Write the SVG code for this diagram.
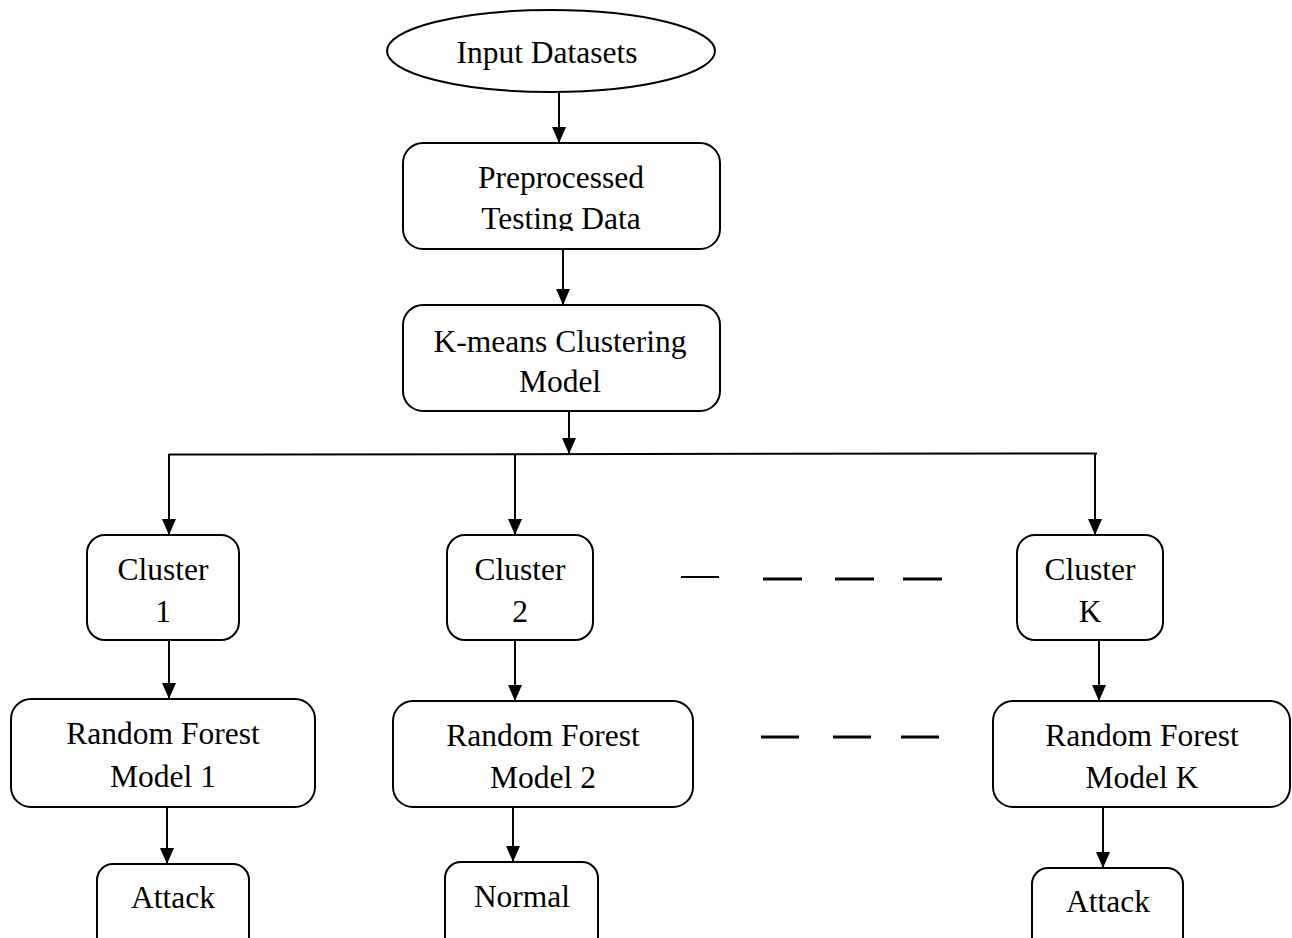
<svg xmlns="http://www.w3.org/2000/svg" width="1292" height="938" viewBox="0 0 1292 938">
<style>
.box{fill:#fff;stroke:#000;stroke-width:2}
.t{font-family:"Liberation Serif","Times New Roman",serif;font-size:31.5px;fill:#000;text-anchor:middle}
.c{stroke:#000;stroke-width:2;fill:none}
.d{stroke:#000;stroke-width:3}
.d1{stroke:#000;stroke-width:2}
</style>
<defs>
<marker id="ah" markerUnits="userSpaceOnUse" markerWidth="16" markerHeight="14" refX="16" refY="7" orient="auto">
<path d="M0,0 L16,7 L0,14 z" fill="#000"/>
</marker>
<clipPath id="clipPre"><rect x="403" y="143" width="317" height="88"/></clipPath>
</defs>
<rect width="1292" height="938" fill="#fff"/>
<g id="connectors">
<line class="c" x1="559" y1="93" x2="559" y2="143" marker-end="url(#ah)"/>
<line class="c" x1="563" y1="249" x2="563" y2="305" marker-end="url(#ah)"/>
<line class="c" x1="569" y1="411" x2="569" y2="454" marker-end="url(#ah)"/>
<line class="c" x1="169" y1="454.5" x2="1097" y2="453.5"/>
<line class="c" x1="169" y1="454" x2="169" y2="535" marker-end="url(#ah)"/>
<line class="c" x1="515" y1="454" x2="515" y2="535" marker-end="url(#ah)"/>
<line class="c" x1="1095" y1="453" x2="1095" y2="535" marker-end="url(#ah)"/>
<line class="c" x1="169" y1="640" x2="169" y2="699" marker-end="url(#ah)"/>
<line class="c" x1="515" y1="640" x2="515" y2="701" marker-end="url(#ah)"/>
<line class="c" x1="1099" y1="640" x2="1099" y2="701" marker-end="url(#ah)"/>
<line class="c" x1="167" y1="807" x2="167" y2="864" marker-end="url(#ah)"/>
<line class="c" x1="513" y1="807" x2="513" y2="862" marker-end="url(#ah)"/>
<line class="c" x1="1103" y1="807" x2="1103" y2="868" marker-end="url(#ah)"/>
</g>
<g id="dashes">
<line class="d1" x1="681" y1="577" x2="719" y2="577"/>
<line class="d" x1="763" y1="579" x2="802" y2="579"/>
<line class="d" x1="835" y1="579" x2="874" y2="579"/>
<line class="d" x1="903" y1="579" x2="942" y2="579"/>
<line class="d" x1="761" y1="737" x2="799" y2="737"/>
<line class="d" x1="833" y1="737" x2="871" y2="737"/>
<line class="d" x1="901" y1="737" x2="939" y2="737"/>
</g>
<g id="input">
<ellipse class="box" cx="551" cy="51" rx="164" ry="41"/>
<text class="t" x="547" y="63">Input Datasets</text>
</g>
<g id="preprocessed">
<rect class="box" x="403" y="143" width="317" height="106" rx="20"/>
<g clip-path="url(#clipPre)">
<text class="t" x="561" y="188">Preprocessed</text>
<text class="t" x="561" y="229">Testing Data</text>
</g>
</g>
<g id="kmeans">
<rect class="box" x="403" y="305" width="317" height="106" rx="20"/>
<text class="t" x="560" y="352">K-means Clustering</text>
<text class="t" x="560" y="392">Model</text>
</g>
<g id="cluster1">
<rect class="box" x="87" y="535" width="152" height="105" rx="18"/>
<text class="t" x="163" y="580">Cluster</text>
<text class="t" x="163" y="622">1</text>
</g>
<g id="cluster2">
<rect class="box" x="447" y="535" width="146" height="105" rx="18"/>
<text class="t" x="520" y="580">Cluster</text>
<text class="t" x="520" y="622">2</text>
</g>
<g id="clusterK">
<rect class="box" x="1017" y="535" width="146" height="105" rx="18"/>
<text class="t" x="1090" y="580">Cluster</text>
<text class="t" x="1090" y="622">K</text>
</g>
<g id="rf1">
<rect class="box" x="11" y="699" width="304" height="108" rx="20"/>
<text class="t" x="163" y="744">Random Forest</text>
<text class="t" x="163" y="787">Model 1</text>
</g>
<g id="rf2">
<rect class="box" x="393" y="701" width="300" height="106" rx="20"/>
<text class="t" x="543" y="746">Random Forest</text>
<text class="t" x="543" y="788">Model 2</text>
</g>
<g id="rfK">
<rect class="box" x="993" y="701" width="297" height="106" rx="20"/>
<text class="t" x="1142" y="746">Random Forest</text>
<text class="t" x="1142" y="788">Model K</text>
</g>
<g id="attack1">
<rect class="box" x="97" y="864" width="152" height="100" rx="16"/>
<text class="t" x="173" y="908">Attack</text>
</g>
<g id="normal">
<rect class="box" x="445" y="862" width="153" height="100" rx="16"/>
<text class="t" x="522" y="907">Normal</text>
</g>
<g id="attackK">
<rect class="box" x="1032" y="868" width="151" height="100" rx="16"/>
<text class="t" x="1108" y="912">Attack</text>
</g>
</svg>
